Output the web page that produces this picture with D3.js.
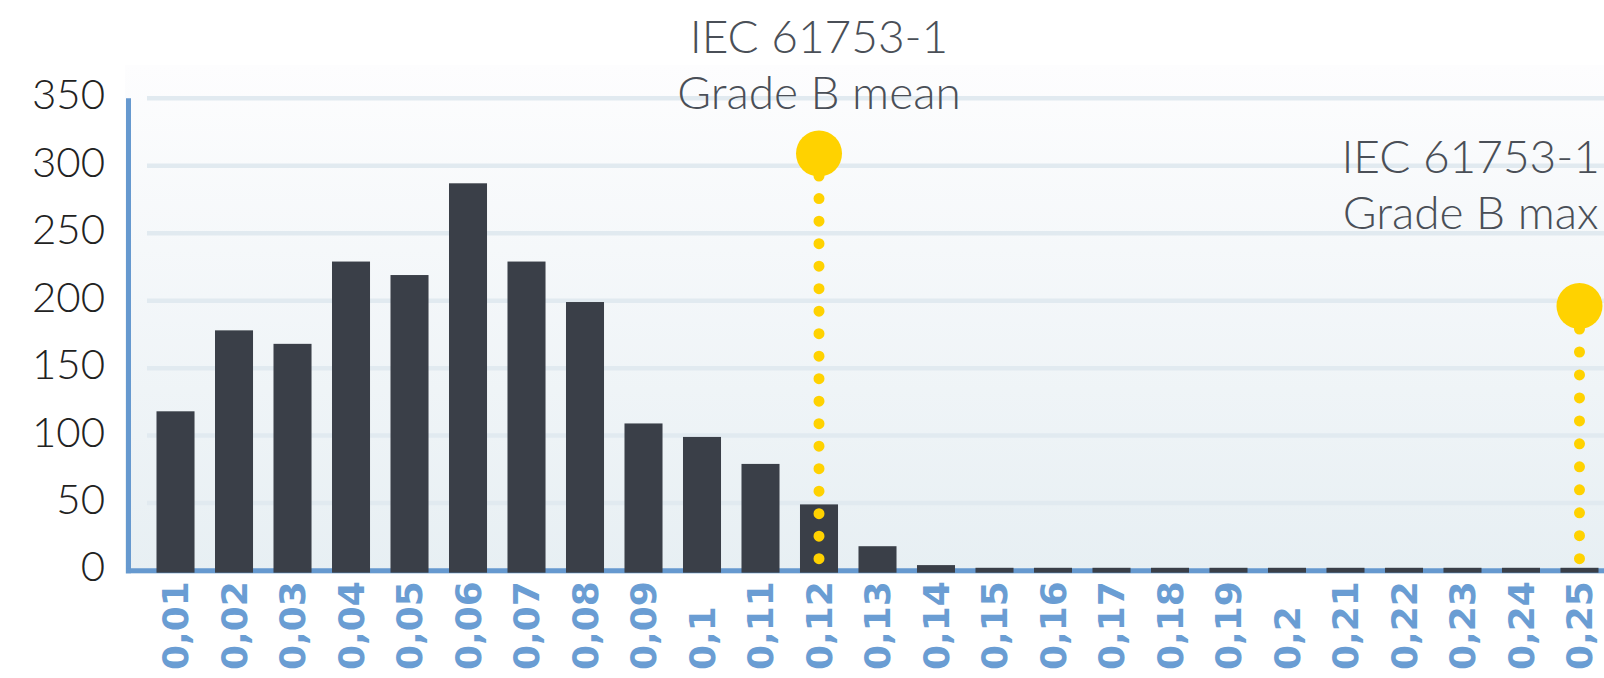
<!DOCTYPE html>
<html>
<head>
<meta charset="utf-8">
<script src="https://cdn.jsdelivr.net/npm/d3@7"></script>
<style>
  body { margin: 0; background: #ffffff; }
  svg { display: block; }
</style>
</head>
<body>
<div class="chart"></div>
<script>
// chart data
var categories = ["0,01", "0,02", "0,03", "0,04", "0,05", "0,06", "0,07", "0,08", "0,09", "0,1",
  "0,11", "0,12", "0,13", "0,14", "0,15", "0,16", "0,17", "0,18", "0,19", "0,2",
  "0,21", "0,22", "0,23", "0,24", "0,25"];
var counts = [118, 178, 168, 229, 219, 287, 229, 199, 109, 99,
  79, 49, 18, 4, 2, 2, 2, 2, 2, 2,
  2, 2, 2, 2, 2];
var yTicks = [0, 50, 100, 150, 200, 250, 300, 350];

// reference markers (IEC 61753-1 grade B)
var markerCategories = ["0,12", "0,25"];
var markerLevels = [309, 196];
var markerLabels = [["IEC 61753-1", "Grade B mean"], ["IEC 61753-1", "Grade B max"]];

var lightFont = "'Lato Light', 'Roboto Light', 'Open Sans Light', 'Noto Sans Light', Lato, sans-serif";

// declare plot dimensions
var svgWidth = 1604;
var svgHeight = 678;

var svg = d3.select(".chart")
  .append("svg")
  .attr("width", svgWidth)
  .attr("height", svgHeight);

// scales
var xScale = d3.scaleBand()
  .domain(categories)
  .range([156.5, 1598.5])
  .paddingInner(0.35)
  .paddingOuter(0);

var yScale = d3.scaleLinear()
  .domain([0, 350])
  .range([570.5, 98.3]);

// background gradient
var defs = svg.append("defs");
var grad = defs.append("linearGradient")
  .attr("id", "bg")
  .attr("x1", 0).attr("y1", 0)
  .attr("x2", 0).attr("y2", 1);
grad.append("stop").attr("offset", "0%").attr("stop-color", "#fdfdfe");
grad.append("stop").attr("offset", "100%").attr("stop-color", "#e7eff3");

svg.append("rect")
  .attr("x", 125)
  .attr("y", 65)
  .attr("width", svgWidth - 125)
  .attr("height", yScale(0) + 3 - 65)
  .attr("fill", "url(#bg)");

// gridlines
svg.append("g")
  .selectAll("line")
  .data(yTicks.filter(d => d > 0))
  .enter()
  .append("line")
  .attr("x1", 147)
  .attr("x2", svgWidth)
  .attr("y1", d => yScale(d))
  .attr("y2", d => yScale(d))
  .attr("stroke", "#e1eaf0")
  .attr("stroke-width", 4.5);

// y axis labels
var leftAxis = d3.axisLeft(yScale)
  .tickValues(yTicks)
  .tickSize(0)
  .tickPadding(0);

var yAxis = svg.append("g")
  .attr("transform", "translate(105, -3)")
  .call(leftAxis);
yAxis.select(".domain").remove();
yAxis.selectAll("text")
  .attr("fill", "#222222")
  .style("font-family", lightFont)
  .style("font-weight", 300)
  .style("font-size", "42px");

// axis lines
svg.append("line")
  .attr("x1", 128.5).attr("x2", 128.5)
  .attr("y1", yScale(350)).attr("y2", yScale(0) + 2.8)
  .attr("stroke", "#6699cf")
  .attr("stroke-width", 5);
svg.append("line")
  .attr("x1", 126).attr("x2", svgWidth)
  .attr("y1", yScale(0) + 0.3).attr("y2", yScale(0) + 0.3)
  .attr("stroke", "#6699cf")
  .attr("stroke-width", 5);

// bars
svg.append("g")
  .selectAll("rect")
  .data(categories)
  .enter()
  .append("rect")
  .attr("x", d => xScale(d))
  .attr("width", xScale.bandwidth())
  .attr("y", (d, i) => yScale(counts[i]))
  .attr("height", (d, i) => yScale(0) - yScale(counts[i]) + 2.2)
  .attr("fill", "#3a3f48");

// x axis labels
var bottomAxis = d3.axisBottom(xScale).tickSize(0).tickPadding(0);
var xAxis = svg.append("g")
  .attr("transform", "translate(0, 670)")
  .call(bottomAxis);
xAxis.select(".domain").remove();
xAxis.selectAll("text")
  .attr("transform", "rotate(-90)")
  .attr("x", 0)
  .attr("y", 0)
  .attr("dy", "0.36em")
  .style("text-anchor", "start")
  .attr("fill", "#6a9dd3")
  .style("font-family", "'DejaVu Sans', sans-serif")
  .style("font-weight", "bold")
  .style("font-size", "36px");

// marker dotted lines and pins
var markerGroup = svg.append("g");
markerCategories.forEach((cat, i) => {
  var cx = xScale(cat) + xScale.bandwidth() / 2;
  var cy = yScale(markerLevels[i]);
  var bottom = 558.7;
  var len = bottom - cy;
  var n = Math.round(len / 22.9);
  markerGroup.append("line")
    .attr("x1", cx).attr("x2", cx)
    .attr("y1", bottom).attr("y2", cy)
    .attr("stroke", "#ffd200")
    .attr("stroke-width", 11)
    .attr("stroke-linecap", "round")
    .attr("stroke-dasharray", `0 ${len / n}`);
  markerGroup.append("circle")
    .attr("cx", cx)
    .attr("cy", cy)
    .attr("r", 23)
    .attr("fill", "#ffd200");
});

// marker labels
var labelLayout = [{ x: 819, y: 53 }, { x: null, y: 173 }];
markerLabels.forEach((lines, i) => {
  var t = svg.append("text")
    .attr("y", labelLayout[i].y)
    .attr("text-anchor", "middle")
    .attr("fill", "#4a4f57")
    .style("font-family", lightFont)
    .style("font-weight", 300)
    .style("font-size", "46px");
  var spans = lines.map((line, j) => t.append("tspan")
    .attr("dy", j === 0 ? 0 : 56)
    .text(line));
  var cx = labelLayout[i].x;
  if (cx === null) {
    // keep the widest line inside the right edge
    var w = d3.max(spans, s => s.node().getComputedTextLength());
    cx = svgWidth - 4 - w / 2;
  }
  spans.forEach(s => s.attr("x", cx));
});
</script>
</body>
</html>
